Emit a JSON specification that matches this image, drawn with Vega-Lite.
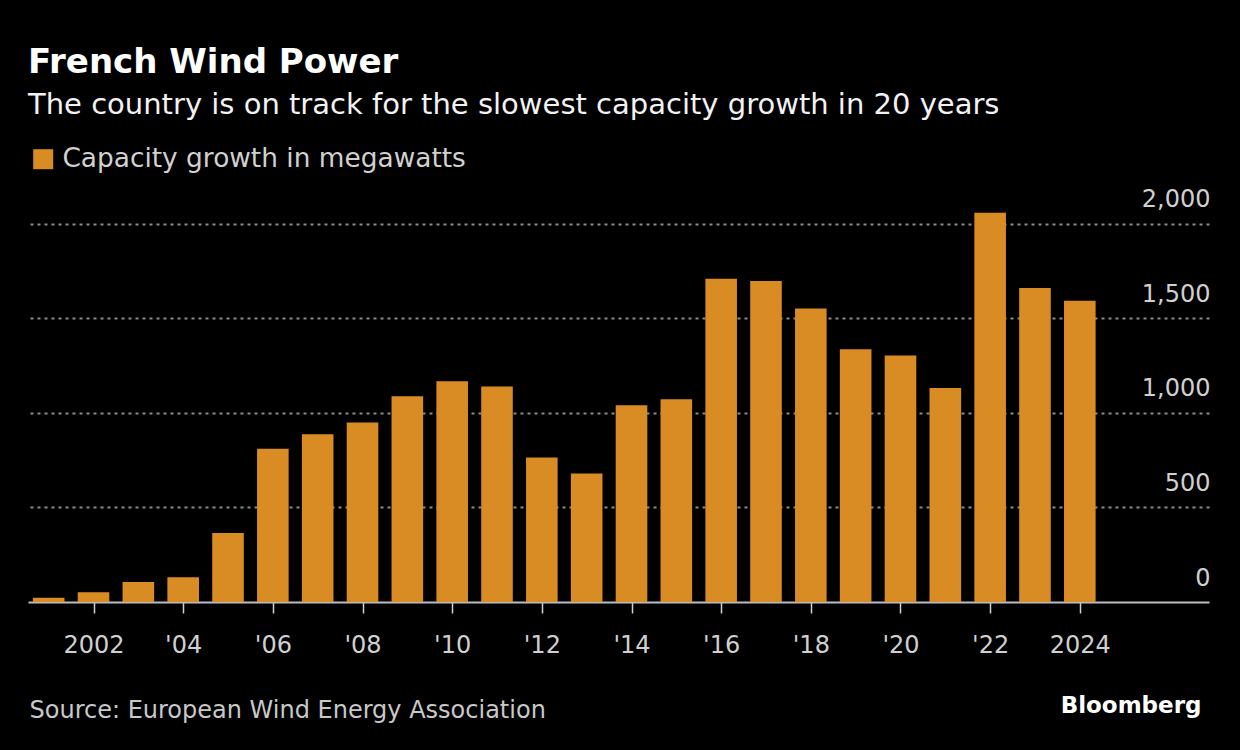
{
  "$schema": "https://vega.github.io/schema/vega-lite/v6.json",
  "width": 1181,
  "height": 416,
  "autosize": {"type": "none"},
  "padding": {"left": 28, "top": 186, "right": 31, "bottom": 148},
  "background": "#000000",
  "config": {"view": {"stroke": null}, "font": "DejaVu Sans"},
  "title": {
    "text": "French Wind Power",
    "subtitle": "The country is on track for the slowest capacity growth in 20 years",
    "anchor": "start",
    "frame": "group",
    "font": "DejaVu Sans",
    "fontSize": 34,
    "fontWeight": "bold",
    "color": "#ffffff",
    "subtitleFont": "DejaVu Sans",
    "subtitleFontSize": 29,
    "subtitleColor": "#f2f2f2",
    "subtitlePadding": 11,
    "offset": 26
  },
  "data": {
    "values": [
      {"year": 2001, "mw": 23},
      {"year": 2002, "mw": 51},
      {"year": 2003, "mw": 106},
      {"year": 2004, "mw": 131},
      {"year": 2005, "mw": 365},
      {"year": 2006, "mw": 810},
      {"year": 2007, "mw": 887},
      {"year": 2008, "mw": 949},
      {"year": 2009, "mw": 1088},
      {"year": 2010, "mw": 1168},
      {"year": 2011, "mw": 1140},
      {"year": 2012, "mw": 764},
      {"year": 2013, "mw": 679},
      {"year": 2014, "mw": 1041},
      {"year": 2015, "mw": 1072},
      {"year": 2016, "mw": 1709},
      {"year": 2017, "mw": 1697},
      {"year": 2018, "mw": 1552},
      {"year": 2019, "mw": 1337},
      {"year": 2020, "mw": 1304},
      {"year": 2021, "mw": 1132},
      {"year": 2022, "mw": 2058},
      {"year": 2023, "mw": 1660},
      {"year": 2024, "mw": 1593}
    ]
  },
  "mark": {"type": "bar", "width": 31.6},
  "encoding": {
    "x": {
      "field": "year",
      "type": "quantitative",
      "scale": {"domain": [2000.65, 2026.77], "nice": false, "zero": false},
      "axis": {
        "values": [2002, 2004, 2006, 2008, 2010, 2012, 2014, 2016, 2018, 2020, 2022, 2024],
        "labelExpr": "datum.value == 2002 || datum.value == 2024 ? toString(datum.value) : \"'\" + substring(toString(datum.value), 2, 4)",
        "grid": false,
        "domainColor": "#bdbdbd",
        "domainWidth": 2,
        "tickColor": "#cfcfcf",
        "tickWidth": 1.5,
        "tickSize": 11,
        "labelFontSize": 24,
        "labelColor": "#d0d0d0",
        "labelBaseline": "alphabetic",
        "labelPadding": 39,
        "labelFlush": false,
        "labelOverlap": false,
        "title": "Source: European Wind Energy Association",
        "titleFontSize": 24,
        "titleFontWeight": "normal",
        "titleColor": "#c8c8c8",
        "titleAnchor": "start",
        "titleAlign": "left",
        "titleBaseline": "alphabetic",
        "titleX": 1,
        "titleY": 115
      }
    },
    "y": {
      "field": "mw",
      "type": "quantitative",
      "scale": {"domain": [0, 2200], "nice": false},
      "axis": {
        "orient": "right",
        "values": [0, 500, 1000, 1500, 2000],
        "format": ",d",
        "grid": true,
        "gridColor": "#8c8c8c",
        "gridDash": [3, 4],
        "gridWidth": 1.8,
        "gridOpacity": {"condition": {"test": "datum.value === 0", "value": 0}, "value": 1},
        "domain": false,
        "ticks": false,
        "tickSize": 0,
        "labelFontSize": 24,
        "labelColor": "#d0d0d0",
        "labelAlign": "right",
        "labelBaseline": "alphabetic",
        "labelOffset": -17,
        "labelPadding": 1,
        "labelFlush": false,
        "labelOverlap": false,
        "title": "Bloomberg",
        "titleAngle": 0,
        "titleAlign": "right",
        "titleBaseline": "alphabetic",
        "titleX": -8,
        "titleY": 526,
        "titleFontSize": 23,
        "titleFontWeight": "bold",
        "titleColor": "#ffffff"
      }
    },
    "color": {
      "datum": "Capacity growth in megawatts",
      "type": "nominal",
      "scale": {"range": ["#d98b24"]},
      "legend": {
        "orient": "none",
        "legendX": 2,
        "legendY": -40,
        "title": null,
        "symbolType": "square",
        "symbolSize": 400,
        "symbolStrokeWidth": 0,
        "symbolOpacity": 1,
        "labelFontSize": 26.4,
        "labelLimit": 0,
        "labelColor": "#d0d0d0",
        "labelOffset": 6,
        "padding": 0
      }
    }
  }
}
